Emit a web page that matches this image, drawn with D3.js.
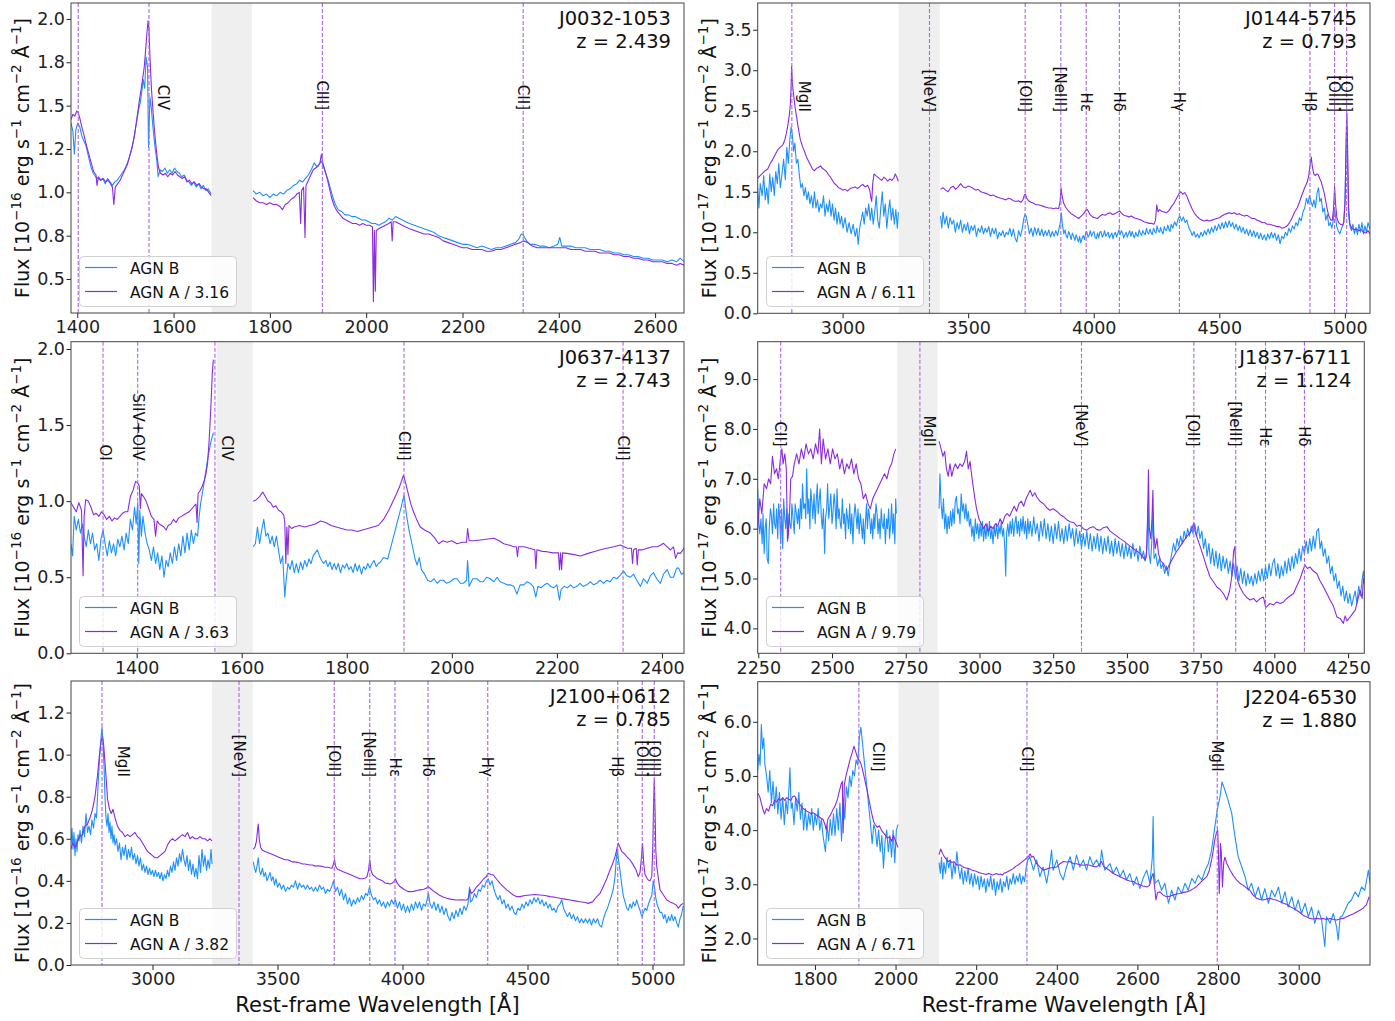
<!DOCTYPE html>
<html>
<head>
<meta charset="utf-8">
<script src="https://cdn.jsdelivr.net/npm/d3@7"></script>
<style>
body { margin: 0; background: #fff; }
text { font-family: "DejaVu Sans", sans-serif; }
</style>
</head>
<body>
<div id="chart"></div>
<script>
// Panel meta data
var panelNames = ["J0032-1053", "J0144-5745", "J0637-4137", "J1837-6711", "J2100+0612", "J2204-6530"];
var redshifts = ["2.439", "0.793", "2.743", "1.124", "0.785", "1.880"];
var scaleA = ["3.16", "6.11", "3.63", "9.79", "3.82", "6.71"];
var fluxExp = ["16", "17", "16", "17", "16", "17"];

var xDomains = [[1387, 2660], [2662, 5100], [1275, 2442], [2248, 4305], [2674, 5126], [1658, 3177]];
var yDomains = [[0.304, 2.092], [0, 3.83], [0, 2.048], [3.5, 9.75], [0, 1.35], [1.51, 6.74]];

var xTicks = [
  [1400, 1600, 1800, 2000, 2200, 2400, 2600],
  [3000, 3500, 4000, 4500, 5000],
  [1400, 1600, 1800, 2000, 2200, 2400],
  [2250, 2500, 2750, 3000, 3250, 3500, 3750, 4000, 4250],
  [3000, 3500, 4000, 4500, 5000],
  [1800, 2000, 2200, 2400, 2600, 2800, 3000]
];
var yTicks = [
  [0.5, 0.75, 1.0, 1.25, 1.5, 1.75, 2.0],
  [0, 0.5, 1.0, 1.5, 2.0, 2.5, 3.0, 3.5],
  [0, 0.5, 1.0, 1.5, 2.0],
  [4, 5, 6, 7, 8, 9],
  [0, 0.2, 0.4, 0.6, 0.8, 1.0, 1.2],
  [2, 3, 4, 5, 6]
];
var yTickLabels = [
  ["0.5", "0.8", "1.0", "1.2", "1.5", "1.8", "2.0"],
  ["0.0", "0.5", "1.0", "1.5", "2.0", "2.5", "3.0", "3.5"],
  ["0.0", "0.5", "1.0", "1.5", "2.0"],
  ["4.0", "5.0", "6.0", "7.0", "8.0", "9.0"],
  ["0.0", "0.2", "0.4", "0.6", "0.8", "1.0", "1.2"],
  ["2.0", "3.0", "4.0", "5.0", "6.0"]
];

// masked (telluric) wavelength ranges
var bands = [[1679, 1763], [3223, 3387], [1552, 1621], [2721, 2858], [3238, 3401], [2007, 2108]];

// emission line markers [rest wavelength, label]
var lines_j0032 = [[1402, ""], [1549, "CIV"], [1909, "CIII]"], [2326, "CII]"]];
var lines_j0144 = [[2798, "MgII"], [3346, "[NeV]"], [3727, "[OII]"], [3869, "[NeIII]"], [3970, "Hε"], [4102, "Hδ"], [4341, "Hγ"], [4861, "Hβ"], [4959, "[OIII]"], [5007, "[OIII]"]];
var lines_j0637 = [[1336, "OI"], [1402, "SiIV+OIV"], [1549, "CIV"], [1909, "CIII]"], [2326, "CII]"]];
var lines_j1837 = [[2326, "CII]"], [2798, "MgII"], [3346, "[NeV]"], [3727, "[OII]"], [3869, "[NeIII]"], [3970, "Hε"], [4102, "Hδ"]];
var lines_j2100 = [[2798, "MgII"], [3346, "[NeV]"], [3727, "[OII]"], [3869, "[NeIII]"], [3970, "Hε"], [4102, "Hδ"], [4341, "Hγ"], [4861, "Hβ"], [4959, "[OIII]"], [5007, "[OIII]"]];
var lines_j2204 = [[1909, "CIII]"], [2326, "CII]"], [2798, "MgII"]];

// spectra: [rest wavelength, flux]; null flux = gap
var j0032_B = [[1387,1.40],[1391,1.35],[1394,1.22],[1397,1.36],[1401,1.40],[1405,1.38],[1409,1.33],[1413,1.30],[1418,1.27],[1423,1.21],[1428,1.15],[1433,1.11],[1438,1.09],[1443,1.08],[1448,1.07],[1453,1.08],[1458,1.05],[1463,1.08],[1468,1.06],[1473,1.04],[1478,1.06],[1483,1.07],[1488,1.09],[1493,1.11],[1498,1.13],[1503,1.16],[1508,1.20],[1513,1.25],[1518,1.32],[1523,1.40],[1527,1.47],[1531,1.52],[1534,1.58],[1537,1.65],[1540,1.60],[1543,1.78],[1546,1.72],[1548,1.26],[1551,1.55],[1554,1.48],[1557,1.38],[1561,1.27],[1565,1.19],[1568,1.09],[1572,1.13],[1577,1.12],[1582,1.14],[1587,1.11],[1592,1.13],[1597,1.11],[1602,1.14],[1607,1.12],[1612,1.11],[1617,1.09],[1622,1.10],[1627,1.07],[1632,1.06],[1637,1.04],[1642,1.06],[1647,1.03],[1652,1.05],[1657,1.02],[1662,1.04],[1667,1.01],[1672,1.02],[1678,0.99],[1680,null],
[1765,1.01],[1772,0.99],[1779,1.00],[1786,0.98],[1793,0.99],[1800,0.97],[1807,0.99],[1814,0.98],[1821,1.00],[1828,0.99],[1835,1.01],[1842,1.02],[1849,1.04],[1856,1.05],[1862,1.07],[1868,1.06],[1874,1.08],[1880,1.10],[1886,1.13],[1892,1.17],[1897,1.15],[1902,1.16],[1907,1.18],[1911,1.15],[1916,1.11],[1921,1.07],[1926,1.02],[1931,0.97],[1936,0.93],[1942,0.90],[1949,0.89],[1956,0.87],[1963,0.87],[1970,0.86],[1977,0.86],[1984,0.85],[1991,0.84],[1998,0.84],[2005,0.83],[2012,0.82],[2019,0.82],[2026,0.81],[2033,0.82],[2040,0.83],[2047,0.85],[2054,0.84],[2061,0.86],[2068,0.85],[2075,0.84],[2082,0.83],[2090,0.82],[2100,0.81],[2110,0.80],[2120,0.79],[2130,0.78],[2140,0.77],[2150,0.75],[2160,0.74],[2170,0.73],[2180,0.72],[2190,0.71],[2200,0.70],[2210,0.70],[2220,0.69],[2230,0.68],[2240,0.69],[2250,0.68],[2260,0.67],[2270,0.68],[2280,0.68],[2290,0.69],[2300,0.70],[2310,0.71],[2317,0.73],[2322,0.76],[2327,0.75],[2333,0.72],[2340,0.70],[2350,0.70],[2360,0.69],[2370,0.69],[2380,0.68],[2390,0.69],[2398,0.70],[2402,0.74],[2406,0.69],[2415,0.69],[2425,0.69],[2435,0.68],[2445,0.68],[2455,0.68],[2465,0.67],[2475,0.67],[2485,0.67],[2495,0.66],[2505,0.66],[2515,0.65],[2525,0.65],[2535,0.64],[2545,0.64],[2555,0.63],[2565,0.63],[2575,0.62],[2585,0.62],[2595,0.61],[2605,0.61],[2615,0.61],[2625,0.60],[2635,0.61],[2645,0.60],[2652,0.62],[2660,0.60]];

var j0032_A = [[1387,1.42],[1391,1.45],[1395,1.44],[1399,1.47],[1402,1.46],[1406,1.42],[1410,1.37],[1414,1.33],[1419,1.27],[1424,1.22],[1429,1.17],[1434,1.12],[1439,1.10],[1441,1.04],[1444,1.09],[1449,1.07],[1454,1.08],[1459,1.06],[1464,1.07],[1469,1.05],[1473,1.03],[1476,0.93],[1479,1.03],[1484,1.05],[1489,1.07],[1494,1.10],[1499,1.13],[1504,1.16],[1509,1.21],[1514,1.26],[1519,1.33],[1524,1.43],[1529,1.53],[1533,1.60],[1536,1.66],[1539,1.72],[1542,1.82],[1545,1.93],[1547,1.99],[1549,1.94],[1551,1.78],[1554,1.60],[1557,1.48],[1560,1.37],[1563,1.28],[1566,1.20],[1569,1.14],[1573,1.11],[1578,1.10],[1583,1.11],[1588,1.09],[1593,1.11],[1598,1.10],[1603,1.12],[1608,1.10],[1613,1.09],[1618,1.08],[1623,1.09],[1628,1.06],[1633,1.07],[1638,1.05],[1643,1.06],[1648,1.04],[1653,1.05],[1658,1.03],[1663,1.02],[1668,1.02],[1673,1.00],[1678,0.98],[1680,null],
[1765,0.97],[1772,0.95],[1779,0.94],[1786,0.94],[1793,0.93],[1800,0.94],[1807,0.93],[1814,0.93],[1820,0.92],[1826,0.90],[1832,0.93],[1838,0.94],[1844,0.96],[1850,0.97],[1856,0.99],[1861,1.00],[1864,0.82],[1866,1.01],[1870,1.03],[1873,0.74],[1875,1.04],[1880,1.07],[1885,1.10],[1890,1.13],[1895,1.14],[1900,1.15],[1904,1.17],[1907,1.22],[1910,1.17],[1914,1.13],[1919,1.08],[1924,1.02],[1929,0.96],[1934,0.92],[1940,0.89],[1946,0.87],[1952,0.85],[1958,0.84],[1965,0.83],[1972,0.82],[1979,0.82],[1986,0.81],[1993,0.82],[2000,0.81],[2007,0.81],[2013,0.80],[2015,0.37],[2017,0.78],[2019,0.43],[2021,0.78],[2026,0.79],[2033,0.80],[2040,0.81],[2047,0.82],[2052,0.83],[2054,0.72],[2056,0.83],[2061,0.83],[2068,0.82],[2075,0.81],[2082,0.80],[2090,0.79],[2100,0.78],[2110,0.77],[2120,0.76],[2130,0.76],[2140,0.75],[2150,0.74],[2160,0.72],[2170,0.71],[2180,0.70],[2190,0.69],[2200,0.68],[2210,0.68],[2220,0.67],[2230,0.67],[2240,0.67],[2250,0.66],[2260,0.66],[2270,0.67],[2280,0.67],[2290,0.68],[2300,0.69],[2310,0.70],[2320,0.71],[2327,0.72],[2335,0.71],[2345,0.69],[2355,0.68],[2365,0.68],[2375,0.68],[2385,0.68],[2395,0.68],[2405,0.68],[2415,0.68],[2425,0.67],[2435,0.67],[2445,0.67],[2455,0.66],[2465,0.66],[2475,0.66],[2485,0.65],[2495,0.65],[2505,0.65],[2515,0.64],[2525,0.64],[2535,0.63],[2545,0.63],[2555,0.62],[2565,0.62],[2575,0.61],[2585,0.61],[2595,0.60],[2605,0.60],[2615,0.60],[2625,0.59],[2635,0.59],[2645,0.58],[2652,0.59],[2660,0.58]];

var j0144_B = [[2662,1.55],[2667,1.30],[2672,1.60],[2680,1.45],[2686,1.70],[2692,1.40],[2698,1.55],[2704,1.35],[2710,1.72],[2716,1.50],[2722,1.68],[2728,1.45],[2734,1.75],[2740,1.60],[2746,1.85],[2752,1.55],[2758,1.70],[2765,1.90],[2772,1.65],[2778,2.05],[2784,1.85],[2790,2.15],[2795,2.30],[2800,2.20],[2805,2.00],[2810,2.10],[2816,1.85],[2822,1.90],[2828,1.70],[2834,1.55],[2840,1.60],[2846,1.45],[2852,1.55],[2858,1.40],[2864,1.50],[2870,1.35],[2876,1.45],[2882,1.30],[2888,1.50],[2894,1.30],[2900,1.40],[2906,1.25],[2912,1.35],[2918,1.30],[2924,1.45],[2930,1.20],[2936,1.35],[2942,1.25],[2948,1.40],[2954,1.20],[2960,1.35],[2966,1.15],[2972,1.30],[2978,1.10],[2984,1.25],[2990,1.10],[2996,1.20],[3002,1.05],[3010,1.18],[3018,1.00],[3026,1.12],[3034,0.98],[3042,1.10],[3050,0.95],[3057,1.05],[3062,0.85],[3068,1.05],[3074,1.15],[3080,1.25],[3086,1.10],[3092,1.30],[3098,1.20],[3104,1.35],[3110,1.15],[3116,1.30],[3122,1.10],[3128,1.25],[3134,1.45],[3140,1.15],[3146,1.05],[3152,1.30],[3158,1.50],[3164,1.20],[3170,1.35],[3176,1.05],[3182,1.25],[3188,1.40],[3194,1.15],[3200,1.30],[3206,1.10],[3212,1.28],[3218,1.05],[3222,1.25],[3224,null],
[3390,1.20],[3395,1.05],[3400,1.25],[3407,1.10],[3414,1.20],[3421,1.05],[3428,1.18],[3435,1.10],[3442,1.15],[3449,1.00],[3456,1.12],[3463,1.04],[3470,1.15],[3477,1.00],[3484,1.10],[3491,1.02],[3498,1.12],[3505,0.98],[3512,1.08],[3519,1.02],[3526,1.09],[3533,0.95],[3540,1.05],[3547,1.00],[3554,1.08],[3561,0.98],[3568,1.05],[3575,1.00],[3582,1.07],[3589,0.95],[3596,1.05],[3603,0.98],[3610,1.05],[3617,0.92],[3624,1.00],[3631,0.96],[3638,1.02],[3645,0.94],[3652,1.00],[3659,0.97],[3666,1.05],[3673,0.95],[3680,1.04],[3687,0.93],[3694,0.88],[3701,1.02],[3708,0.95],[3715,1.04],[3721,1.16],[3726,1.22],[3731,1.20],[3737,1.10],[3744,0.98],[3751,1.05],[3758,0.95],[3765,1.06],[3772,0.97],[3779,1.05],[3786,0.96],[3793,1.04],[3800,0.95],[3807,1.02],[3814,0.96],[3821,1.03],[3828,0.94],[3835,1.01],[3842,0.95],[3849,1.02],[3856,0.96],[3862,1.05],[3867,1.12],[3871,1.24],[3875,1.10],[3881,0.98],[3886,1.03],[3890,0.96],[3895,0.93],[3900,1.01],[3905,0.97],[3910,0.91],[3915,0.99],[3920,0.95],[3925,0.90],[3930,0.97],[3934,0.93],[3939,0.88],[3944,0.95],[3948,0.87],[3953,0.92],[3958,0.96],[3963,0.91],[3968,0.99],[3972,1.01],[3977,0.94],[3982,0.97],[3986,1.02],[3991,0.95],[3996,0.99],[4001,1.01],[4005,0.94],[4010,0.92],[4015,0.99],[4020,0.93],[4024,1.00],[4029,1.01],[4034,0.94],[4039,0.97],[4043,1.02],[4048,0.95],[4053,0.98],[4058,1.00],[4062,0.93],[4067,0.96],[4072,0.99],[4077,0.92],[4081,0.97],[4086,1.00],[4091,0.94],[4096,0.99],[4100,1.03],[4105,0.97],[4110,1.02],[4115,0.99],[4119,0.93],[4124,0.97],[4129,1.00],[4134,0.94],[4138,0.98],[4143,1.02],[4148,0.95],[4153,1.01],[4157,0.97],[4162,0.93],[4167,1.00],[4172,0.96],[4176,0.95],[4181,1.03],[4186,0.98],[4191,0.96],[4195,1.02],[4200,0.99],[4205,0.97],[4210,1.05],[4214,1.00],[4219,0.98],[4224,1.04],[4229,0.99],[4233,0.97],[4238,1.05],[4243,1.01],[4248,0.99],[4252,1.08],[4257,1.02],[4262,1.00],[4266,1.06],[4271,1.01],[4276,0.98],[4281,1.07],[4285,1.03],[4290,1.02],[4295,1.09],[4300,1.03],[4304,1.01],[4308,1.10],[4315,1.05],[4322,1.13],[4329,1.08],[4336,1.17],[4343,1.20],[4350,1.14],[4357,1.19],[4364,1.12],[4371,1.15],[4378,1.06],[4385,1.02],[4392,0.96],[4399,1.01],[4406,0.94],[4413,0.98],[4420,0.93],[4427,1.00],[4434,0.95],[4441,1.02],[4448,0.97],[4455,1.04],[4462,0.98],[4469,1.06],[4476,1.00],[4483,1.08],[4490,1.02],[4497,1.10],[4504,1.04],[4511,1.12],[4518,1.05],[4525,1.13],[4532,1.06],[4539,1.14],[4546,1.07],[4553,1.12],[4560,1.04],[4567,1.10],[4574,1.02],[4581,1.08],[4588,1.00],[4595,1.06],[4602,0.98],[4609,1.04],[4616,0.96],[4623,1.03],[4630,0.95],[4637,1.02],[4644,0.94],[4651,1.00],[4658,0.92],[4665,0.99],[4672,0.91],[4679,0.97],[4686,0.90],[4693,0.98],[4700,0.92],[4707,1.00],[4714,0.93],[4721,0.99],[4728,0.90],[4735,0.97],[4742,0.86],[4749,0.95],[4756,0.92],[4763,1.00],[4770,0.96],[4777,1.05],[4784,1.00],[4791,1.08],[4798,1.04],[4805,1.12],[4812,1.08],[4819,1.18],[4826,1.14],[4833,1.25],[4840,1.30],[4847,1.42],[4853,1.35],[4859,1.45],[4865,1.38],[4871,1.32],[4877,1.40],[4883,1.30],[4889,1.48],[4895,1.55],[4900,1.38],[4906,1.42],[4912,1.25],[4918,1.30],[4924,1.15],[4930,1.22],[4936,1.08],[4942,1.12],[4948,1.05],[4954,1.15],[4958,1.30],[4962,1.22],[4967,1.08],[4973,1.02],[4980,0.98],[4987,1.05],[4994,1.10],[5000,1.35],[5004,1.90],[5008,2.30],[5011,1.80],[5015,1.20],[5020,1.08],[5026,1.02],[5032,1.10],[5038,0.98],[5044,1.06],[5050,0.97],[5056,1.10],[5062,1.00],[5068,1.12],[5074,0.98],[5080,1.08],[5086,1.00],[5092,1.12],[5100,1.04]];

var j0144_A = [[2662,1.67],[2672,1.70],[2682,1.73],[2692,1.76],[2702,1.78],[2712,1.85],[2722,1.90],[2732,1.96],[2742,2.02],[2752,2.05],[2762,2.08],[2770,2.14],[2776,2.22],[2782,2.32],[2788,2.45],[2792,2.58],[2795,2.80],[2797,3.05],[2800,2.85],[2803,2.75],[2807,2.64],[2812,2.52],[2818,2.40],[2825,2.26],[2832,2.14],[2840,2.06],[2848,2.00],[2856,1.93],[2864,1.88],[2872,1.83],[2880,1.78],[2888,1.76],[2896,1.79],[2904,1.80],[2912,1.82],[2920,1.79],[2928,1.77],[2936,1.75],[2944,1.71],[2952,1.68],[2960,1.64],[2968,1.60],[2976,1.58],[2984,1.55],[2992,1.54],[3000,1.52],[3010,1.53],[3020,1.51],[3030,1.54],[3040,1.55],[3050,1.56],[3060,1.54],[3070,1.57],[3080,1.59],[3090,1.56],[3100,1.58],[3108,1.52],[3113,1.42],[3116,1.38],[3120,1.60],[3125,1.72],[3132,1.70],[3140,1.68],[3148,1.66],[3156,1.64],[3164,1.68],[3172,1.66],[3180,1.63],[3188,1.66],[3196,1.64],[3204,1.67],[3210,1.72],[3216,1.68],[3222,1.63],[3224,null],
[3390,1.53],[3400,1.55],[3410,1.52],[3420,1.50],[3430,1.55],[3440,1.57],[3450,1.53],[3460,1.56],[3470,1.60],[3480,1.56],[3490,1.55],[3500,1.57],[3510,1.56],[3520,1.54],[3530,1.52],[3540,1.53],[3550,1.50],[3560,1.49],[3570,1.48],[3580,1.47],[3590,1.45],[3600,1.46],[3610,1.44],[3620,1.43],[3630,1.42],[3640,1.41],[3650,1.40],[3660,1.42],[3670,1.41],[3680,1.39],[3690,1.38],[3700,1.39],[3710,1.37],[3718,1.40],[3724,1.46],[3728,1.47],[3733,1.42],[3740,1.39],[3750,1.37],[3760,1.36],[3770,1.34],[3780,1.34],[3790,1.33],[3800,1.32],[3810,1.31],[3820,1.30],[3830,1.30],[3840,1.29],[3850,1.30],[3860,1.29],[3866,1.38],[3870,1.55],[3874,1.45],[3880,1.36],[3890,1.30],[3900,1.26],[3910,1.23],[3920,1.21],[3930,1.19],[3940,1.17],[3950,1.20],[3960,1.23],[3968,1.27],[3975,1.28],[3985,1.22],[3995,1.19],[4005,1.18],[4015,1.17],[4025,1.20],[4035,1.22],[4045,1.21],[4055,1.23],[4065,1.24],[4075,1.22],[4085,1.23],[4095,1.25],[4104,1.26],[4112,1.23],[4120,1.21],[4130,1.20],[4140,1.19],[4150,1.20],[4160,1.18],[4170,1.17],[4180,1.16],[4190,1.15],[4200,1.13],[4210,1.12],[4220,1.11],[4230,1.11],[4240,1.10],[4246,1.15],[4251,1.34],[4256,1.25],[4262,1.28],[4270,1.26],[4280,1.25],[4290,1.24],[4300,1.27],[4310,1.32],[4320,1.36],[4330,1.42],[4340,1.48],[4347,1.50],[4354,1.47],[4362,1.49],[4370,1.45],[4380,1.37],[4390,1.30],[4400,1.24],[4410,1.20],[4420,1.17],[4430,1.15],[4440,1.14],[4450,1.15],[4460,1.14],[4470,1.15],[4480,1.16],[4490,1.17],[4500,1.18],[4510,1.20],[4520,1.22],[4530,1.23],[4540,1.24],[4550,1.23],[4560,1.24],[4570,1.22],[4580,1.23],[4590,1.21],[4600,1.20],[4610,1.21],[4620,1.19],[4630,1.17],[4640,1.17],[4650,1.15],[4660,1.14],[4670,1.12],[4680,1.12],[4690,1.10],[4700,1.10],[4710,1.09],[4720,1.08],[4730,1.07],[4740,1.07],[4750,1.05],[4760,1.06],[4770,1.08],[4780,1.12],[4790,1.18],[4800,1.25],[4810,1.30],[4820,1.38],[4830,1.47],[4840,1.55],[4850,1.62],[4856,1.70],[4862,1.85],[4866,1.93],[4870,1.82],[4876,1.72],[4882,1.70],[4888,1.72],[4894,1.71],[4900,1.66],[4906,1.62],[4912,1.55],[4918,1.48],[4924,1.38],[4930,1.28],[4936,1.20],[4944,1.15],[4950,1.15],[4955,1.30],[4959,1.56],[4963,1.35],[4968,1.18],[4975,1.12],[4982,1.10],[4990,1.09],[4996,1.12],[5001,1.40],[5005,2.20],[5008,2.47],[5011,2.00],[5015,1.30],[5020,1.10],[5028,1.05],[5036,1.03],[5045,1.04],[5055,1.02],[5065,1.03],[5075,1.00],[5085,0.99],[5092,1.02],[5100,0.98]];

var j0637_B = [[1275,0.72],[1278,0.64],[1281,0.90],[1285,0.81],[1289,0.88],[1293,0.79],[1297,0.85],[1300,0.77],[1304,0.70],[1308,0.81],[1312,0.72],[1316,0.79],[1320,0.68],[1324,0.72],[1328,0.61],[1332,0.75],[1336,0.81],[1340,0.72],[1344,0.64],[1348,0.74],[1352,0.66],[1356,0.72],[1360,0.64],[1364,0.75],[1368,0.70],[1372,0.77],[1376,0.68],[1380,0.79],[1384,0.72],[1388,0.88],[1392,0.81],[1396,0.96],[1399,0.85],[1402,0.99],[1404,0.59],[1406,0.94],[1409,0.77],[1412,0.90],[1416,0.79],[1420,0.72],[1424,0.68],[1428,0.61],[1432,0.70],[1436,0.59],[1440,0.66],[1444,0.55],[1448,0.64],[1452,0.50],[1456,0.61],[1460,0.57],[1464,0.66],[1468,0.59],[1472,0.70],[1476,0.61],[1480,0.72],[1484,0.64],[1488,0.77],[1492,0.66],[1496,0.79],[1500,0.68],[1504,0.81],[1508,0.72],[1512,0.79],[1516,0.77],[1519,0.90],[1522,0.99],[1526,1.07],[1530,1.16],[1534,1.25],[1538,1.33],[1542,1.40],[1546,1.45],[1548,null],
[1622,0.70],[1626,0.72],[1630,0.83],[1634,0.72],[1638,0.81],[1642,0.88],[1646,0.77],[1650,0.79],[1654,0.72],[1658,0.77],[1662,0.70],[1666,0.77],[1670,0.68],[1674,0.59],[1678,0.64],[1682,0.37],[1684,0.46],[1688,0.59],[1692,0.55],[1696,0.61],[1700,0.53],[1704,0.59],[1708,0.53],[1712,0.60],[1716,0.55],[1720,0.61],[1724,0.57],[1728,0.62],[1732,0.59],[1736,0.64],[1740,0.66],[1744,0.68],[1748,0.64],[1752,0.61],[1756,0.59],[1760,0.61],[1764,0.57],[1768,0.60],[1772,0.55],[1776,0.59],[1780,0.55],[1784,0.59],[1788,0.53],[1792,0.58],[1796,0.56],[1800,0.59],[1804,0.55],[1808,0.57],[1812,0.53],[1816,0.59],[1820,0.54],[1824,0.58],[1828,0.52],[1832,0.57],[1836,0.55],[1840,0.59],[1844,0.56],[1848,0.59],[1852,0.61],[1856,0.57],[1860,0.59],[1864,0.60],[1870,0.63],[1878,0.62],[1884,0.70],[1890,0.78],[1896,0.86],[1902,0.94],[1909,1.04],[1914,0.90],[1919,0.80],[1924,0.72],[1930,0.62],[1934,0.58],[1938,0.63],[1942,0.55],[1948,0.52],[1954,0.48],[1960,0.47],[1966,0.49],[1972,0.46],[1978,0.48],[1984,0.48],[1990,0.46],[1997,0.47],[2004,0.49],[2010,0.49],[2016,0.46],[2022,0.46],[2028,0.48],[2030,0.61],[2033,0.44],[2040,0.49],[2048,0.49],[2054,0.47],[2060,0.47],[2066,0.50],[2073,0.49],[2080,0.47],[2086,0.50],[2092,0.47],[2099,0.46],[2105,0.45],[2111,0.45],[2118,0.44],[2124,0.39],[2130,0.45],[2137,0.45],[2143,0.47],[2149,0.46],[2155,0.44],[2160,0.37],[2164,0.44],[2170,0.43],[2176,0.45],[2182,0.46],[2188,0.44],[2194,0.43],[2200,0.45],[2205,0.35],[2208,0.42],[2214,0.44],[2220,0.43],[2226,0.45],[2232,0.43],[2238,0.44],[2244,0.46],[2250,0.44],[2257,0.45],[2264,0.47],[2270,0.45],[2276,0.46],[2282,0.48],[2289,0.46],[2295,0.48],[2301,0.47],[2308,0.50],[2314,0.49],[2320,0.51],[2327,0.54],[2333,0.51],[2340,0.50],[2346,0.52],[2352,0.48],[2359,0.44],[2365,0.49],[2372,0.46],[2378,0.51],[2384,0.53],[2390,0.49],[2397,0.46],[2403,0.52],[2410,0.55],[2416,0.50],[2422,0.50],[2428,0.56],[2432,0.56],[2437,0.52],[2443,0.53]];

var j0637_A = [[1275,0.99],[1280,0.96],[1285,0.93],[1290,0.99],[1295,0.94],[1298,0.51],[1300,0.90],[1303,1.01],[1308,1.00],[1313,0.96],[1318,0.91],[1323,0.92],[1328,0.90],[1333,0.93],[1338,0.91],[1343,0.88],[1348,0.90],[1353,0.87],[1358,0.89],[1363,0.88],[1368,0.90],[1373,0.92],[1378,0.93],[1383,0.93],[1388,1.03],[1393,1.07],[1398,1.13],[1402,1.12],[1405,1.10],[1407,0.95],[1409,1.05],[1413,1.03],[1418,1.00],[1423,0.95],[1428,0.90],[1433,0.88],[1436,0.77],[1439,0.87],[1443,0.85],[1448,0.84],[1452,0.83],[1456,0.81],[1460,0.84],[1465,0.85],[1470,0.88],[1475,0.86],[1480,0.89],[1485,0.90],[1490,0.91],[1495,0.92],[1500,0.93],[1505,0.95],[1510,0.97],[1513,0.98],[1515,0.86],[1517,1.05],[1521,1.07],[1525,1.10],[1529,1.14],[1532,1.18],[1535,1.25],[1538,1.40],[1541,1.60],[1544,1.84],[1546,1.93],[1548,null],
[1622,1.00],[1628,1.01],[1634,1.03],[1640,1.06],[1645,1.03],[1650,1.00],[1655,0.99],[1660,0.96],[1665,0.97],[1670,0.94],[1675,0.93],[1680,0.91],[1682,0.86],[1684,0.59],[1686,0.83],[1688,0.65],[1690,0.84],[1695,0.82],[1700,0.83],[1710,0.84],[1720,0.83],[1730,0.84],[1740,0.85],[1750,0.87],[1760,0.86],[1770,0.84],[1780,0.83],[1790,0.82],[1800,0.81],[1810,0.81],[1820,0.80],[1830,0.81],[1840,0.82],[1850,0.83],[1860,0.84],[1870,0.88],[1880,0.94],[1888,1.00],[1895,1.05],[1901,1.10],[1908,1.17],[1912,1.12],[1917,1.05],[1922,0.98],[1927,0.93],[1933,0.88],[1940,0.83],[1948,0.81],[1959,0.79],[1967,0.76],[1975,0.72],[1983,0.74],[1991,0.73],[2000,0.74],[2010,0.72],[2020,0.73],[2028,0.73],[2030,0.82],[2033,0.74],[2042,0.74],[2054,0.745],[2066,0.75],[2080,0.756],[2090,0.74],[2099,0.72],[2110,0.71],[2118,0.70],[2123,0.70],[2125,0.635],[2127,0.70],[2137,0.70],[2148,0.69],[2158,0.68],[2160,0.558],[2162,0.68],[2172,0.67],[2181,0.668],[2192,0.66],[2203,0.66],[2205,0.548],[2207,0.66],[2209,0.55],[2211,0.66],[2219,0.657],[2230,0.65],[2245,0.64],[2258,0.655],[2270,0.668],[2283,0.68],[2295,0.69],[2308,0.70],[2321,0.712],[2334,0.69],[2342,0.69],[2344,0.59],[2346,0.68],[2351,0.69],[2353,0.58],[2355,0.68],[2363,0.68],[2372,0.69],[2382,0.70],[2391,0.70],[2397,0.71],[2403,0.723],[2410,0.70],[2416,0.68],[2422,0.70],[2426,0.624],[2430,0.66],[2435,0.657],[2440,0.68],[2443,0.70]];

var j1837_B = [[2248,6.8],[2252,6.1],[2255,5.9],[2259,6.2],[2263,5.7],[2266,6.3],[2270,5.5],[2273,6.0],[2277,6.2],[2280,5.4],[2284,5.3],[2287,6.0],[2291,6.4],[2294,6.3],[2298,5.9],[2302,6.5],[2305,6.1],[2309,6.0],[2312,6.4],[2316,5.8],[2319,6.5],[2322,6.3],[2326,5.7],[2329,6.4],[2333,5.6],[2336,6.6],[2340,6.2],[2343,6.0],[2347,6.4],[2350,5.8],[2354,6.3],[2357,6.1],[2361,6.0],[2364,6.5],[2368,6.2],[2372,5.9],[2375,6.5],[2379,6.3],[2383,6.1],[2386,6.4],[2390,6.0],[2393,6.6],[2397,6.2],[2400,6.9],[2404,6.4],[2408,6.5],[2411,6.2],[2414,7.2],[2418,6.3],[2421,6.6],[2425,6.0],[2428,6.8],[2432,6.5],[2435,6.2],[2439,6.7],[2443,6.1],[2446,6.5],[2450,6.9],[2453,6.3],[2457,6.6],[2460,6.8],[2464,6.2],[2467,6.0],[2471,6.4],[2475,5.5],[2478,6.2],[2482,6.4],[2485,6.9],[2489,6.2],[2492,6.4],[2496,6.7],[2500,6.1],[2503,6.3],[2507,6.7],[2510,6.5],[2514,6.0],[2517,6.8],[2521,6.2],[2524,6.4],[2528,6.1],[2531,6.0],[2535,6.6],[2539,6.1],[2542,6.3],[2546,5.8],[2549,6.4],[2553,6.2],[2556,6.0],[2560,6.5],[2563,5.9],[2567,6.3],[2571,5.7],[2574,6.2],[2578,6.5],[2581,6.3],[2585,6.0],[2588,6.4],[2592,5.9],[2596,6.3],[2599,6.1],[2603,5.8],[2606,6.2],[2610,5.7],[2613,6.1],[2617,6.5],[2620,6.0],[2624,6.4],[2628,6.2],[2631,5.9],[2635,6.2],[2638,5.8],[2642,6.3],[2645,6.0],[2649,6.5],[2653,6.3],[2656,5.9],[2660,6.2],[2663,5.8],[2667,6.4],[2670,6.1],[2674,6.0],[2677,6.3],[2681,5.7],[2685,6.2],[2688,6.0],[2692,6.4],[2695,5.8],[2699,6.1],[2702,6.5],[2706,5.9],[2709,6.3],[2713,5.7],[2716,6.6],[2718,6.3],[2720,null],
[2863,6.4],[2866,7.1],[2870,6.5],[2874,6.2],[2878,6.6],[2882,6.0],[2886,6.3],[2890,5.9],[2894,6.25],[2898,6.0],[2902,6.35],[2906,6.05],[2910,6.4],[2914,6.1],[2918,6.55],[2922,6.65],[2926,6.3],[2930,6.4],[2934,6.1],[2938,6.7],[2942,6.35],[2946,6.5],[2950,6.2],[2954,6.5],[2958,6.15],[2962,6.35],[2966,6.05],[2970,6.2],[2974,5.85],[2978,6.05],[2982,5.75],[2986,6.2],[2990,5.9],[2994,6.1],[2998,5.8],[3002,6.1],[3006,5.85],[3010,6.15],[3014,5.75],[3018,6.05],[3022,5.8],[3026,6.1],[3030,5.85],[3034,6.15],[3038,5.8],[3042,6.0],[3046,5.7],[3050,6.05],[3054,5.85],[3058,6.1],[3062,5.8],[3066,6.05],[3070,5.9],[3074,6.15],[3078,5.85],[3082,6.0],[3086,5.6],[3089,5.05],[3092,5.9],[3096,6.1],[3100,5.85],[3104,6.15],[3108,5.9],[3112,6.2],[3116,5.85],[3120,6.1],[3124,6.25],[3128,5.9],[3132,6.15],[3136,5.85],[3140,6.2],[3144,5.95],[3148,6.25],[3152,5.9],[3156,6.15],[3160,5.8],[3164,6.2],[3168,5.9],[3172,6.15],[3178,5.85],[3184,6.24],[3190,5.9],[3196,6.1],[3202,5.75],[3208,6.15],[3214,5.85],[3220,6.2],[3226,5.8],[3232,6.1],[3238,5.75],[3244,6.05],[3250,5.7],[3256,6.1],[3262,5.8],[3268,6.15],[3274,5.75],[3280,6.0],[3286,5.7],[3292,6.05],[3298,5.75],[3304,6.1],[3310,5.8],[3316,6.0],[3322,5.65],[3328,6.0],[3334,5.7],[3340,5.95],[3346,5.6],[3352,5.9],[3358,5.65],[3364,5.95],[3370,5.6],[3376,5.9],[3382,5.55],[3388,5.85],[3394,5.6],[3400,5.9],[3406,5.55],[3412,5.85],[3418,5.5],[3424,5.8],[3430,5.55],[3436,5.85],[3442,5.5],[3448,5.75],[3454,5.45],[3460,5.8],[3466,5.5],[3472,5.75],[3478,5.45],[3484,5.7],[3490,5.4],[3496,5.7],[3502,5.45],[3508,5.65],[3514,5.4],[3520,5.7],[3526,5.45],[3532,5.6],[3538,5.35],[3544,5.65],[3550,5.4],[3556,5.55],[3562,5.35],[3568,5.6],[3572,6.5],[3575,5.5],[3580,5.3],[3584,5.7],[3588,6.3],[3592,5.4],[3598,5.5],[3604,5.25],[3610,5.4],[3616,5.2],[3622,5.3],[3628,5.1],[3634,5.25],[3640,5.05],[3646,5.3],[3652,5.5],[3658,5.7],[3664,5.55],[3670,5.8],[3676,5.65],[3682,5.85],[3688,5.7],[3694,5.95],[3700,5.8],[3706,6.0],[3712,5.85],[3718,6.05],[3724,5.9],[3730,6.1],[3736,5.85],[3742,6.05],[3748,5.8],[3754,5.95],[3760,5.6],[3766,5.8],[3772,5.45],[3778,5.7],[3784,5.3],[3790,5.6],[3796,5.25],[3802,5.55],[3808,5.2],[3814,5.5],[3820,5.15],[3826,5.45],[3832,5.2],[3838,5.4],[3844,5.1],[3850,5.35],[3856,5.05],[3862,5.3],[3868,5.0],[3874,5.25],[3880,4.95],[3886,5.2],[3892,4.9],[3898,5.15],[3904,4.85],[3910,5.1],[3916,4.9],[3922,5.05],[3928,4.85],[3934,5.1],[3940,4.9],[3946,5.15],[3952,4.95],[3958,5.2],[3964,4.95],[3970,5.25],[3976,5.0],[3982,5.3],[3988,5.05],[3994,5.3],[4000,5.4],[4006,5.05],[4012,5.3],[4018,5.0],[4024,5.25],[4030,5.05],[4036,5.35],[4042,5.1],[4048,5.4],[4054,5.15],[4060,5.45],[4066,5.2],[4072,5.5],[4078,5.3],[4084,5.6],[4090,5.35],[4096,5.65],[4102,5.5],[4108,5.75],[4114,5.5],[4120,5.8],[4126,5.55],[4132,5.85],[4138,5.6],[4144,5.95],[4150,6.0],[4155,5.6],[4160,5.75],[4166,5.45],[4172,5.6],[4178,5.3],[4184,5.45],[4190,5.1],[4196,5.25],[4202,4.95],[4208,5.1],[4214,4.8],[4220,4.95],[4226,4.65],[4232,4.85],[4238,4.55],[4244,4.75],[4250,4.5],[4256,4.7],[4262,4.45],[4268,4.6],[4274,4.75],[4280,4.5],[4286,4.85],[4292,4.65],[4298,5.0],[4302,5.15],[4305,4.95]];

var j1837_A = [[2248,6.0],[2255,6.6],[2262,6.3],[2270,6.9],[2278,6.8],[2285,7.0],[2292,6.9],[2298,7.45],[2305,7.1],[2312,7.2],[2318,7.0],[2325,7.4],[2330,7.6],[2334,7.3],[2340,7.5],[2345,7.2],[2349,5.75],[2352,5.9],[2356,6.3],[2360,7.0],[2366,7.05],[2372,7.3],[2380,7.5],[2388,7.3],[2396,7.6],[2404,7.4],[2412,7.7],[2420,7.5],[2428,7.6],[2436,7.4],[2444,7.7],[2452,7.5],[2458,8.0],[2464,7.3],[2470,7.8],[2478,7.4],[2486,7.6],[2494,7.3],[2502,7.6],[2510,7.4],[2518,7.5],[2526,7.2],[2534,7.4],[2542,7.1],[2550,7.3],[2558,7.2],[2566,7.4],[2574,7.1],[2582,7.3],[2590,7.0],[2598,6.9],[2606,6.6],[2614,6.7],[2622,6.5],[2630,6.4],[2638,6.6],[2646,6.7],[2654,6.8],[2662,6.9],[2670,7.0],[2678,7.1],[2686,7.0],[2694,7.2],[2702,7.3],[2710,7.5],[2716,7.6],[2720,null],
[2863,7.75],[2870,7.6],[2876,7.45],[2882,7.55],[2888,7.2],[2894,7.05],[2900,7.3],[2906,7.05],[2912,7.2],[2918,7.3],[2926,7.2],[2934,7.3],[2942,7.25],[2950,7.35],[2956,7.55],[2962,7.2],[2968,7.35],[2975,7.0],[2982,6.7],[2990,6.4],[2998,6.2],[3006,6.1],[3014,6.0],[3022,6.1],[3030,5.95],[3038,6.05],[3046,6.0],[3054,6.1],[3062,6.05],[3070,6.2],[3078,6.1],[3086,6.25],[3094,6.3],[3102,6.25],[3110,6.35],[3118,6.45],[3126,6.35],[3134,6.5],[3142,6.55],[3150,6.45],[3158,6.6],[3166,6.7],[3172,6.77],[3180,6.65],[3188,6.72],[3194,6.64],[3205,6.55],[3217,6.5],[3228,6.42],[3239,6.37],[3250,6.40],[3262,6.35],[3274,6.28],[3285,6.24],[3296,6.18],[3307,6.14],[3320,6.12],[3330,6.05],[3341,6.07],[3352,6.0],[3364,5.97],[3375,6.02],[3386,6.04],[3398,5.98],[3409,5.97],[3420,6.02],[3432,6.04],[3443,5.95],[3454,5.90],[3466,5.85],[3477,5.80],[3488,5.76],[3500,5.70],[3511,5.65],[3522,5.60],[3534,5.55],[3545,5.50],[3556,5.42],[3562,5.37],[3566,5.45],[3570,6.2],[3573,7.18],[3576,6.0],[3581,5.8],[3585,6.2],[3588,6.77],[3591,5.9],[3596,5.6],[3602,5.8],[3607,5.5],[3615,5.35],[3624,5.30],[3635,5.17],[3646,5.30],[3658,5.43],[3669,5.55],[3680,5.64],[3692,5.75],[3703,5.84],[3712,5.90],[3720,5.97],[3726,6.11],[3731,5.95],[3737,5.84],[3748,5.65],[3760,5.43],[3771,5.22],[3782,5.03],[3794,4.93],[3805,4.83],[3816,4.78],[3827,4.70],[3839,4.57],[3848,4.75],[3856,5.05],[3862,5.55],[3866,5.64],[3870,5.20],[3876,4.95],[3884,4.82],[3895,4.70],[3906,4.62],[3918,4.57],[3929,4.60],[3940,4.53],[3952,4.60],[3963,4.63],[3970,4.43],[3974,4.43],[3985,4.50],[3997,4.47],[4008,4.53],[4020,4.50],[4031,4.53],[4042,4.60],[4053,4.65],[4065,4.70],[4076,4.85],[4087,4.99],[4096,5.15],[4104,5.27],[4112,5.20],[4121,5.23],[4132,5.15],[4144,5.10],[4155,4.95],[4167,4.83],[4178,4.70],[4189,4.57],[4200,4.45],[4212,4.23],[4223,4.20],[4234,4.10],[4240,4.25],[4246,4.15],[4257,4.23],[4266,4.30],[4274,4.36],[4282,4.55],[4291,4.76],[4298,4.6],[4302,5.0],[4305,4.9]];

var j2100_B = [[2674,0.58],[2678,0.65],[2682,0.55],[2686,0.63],[2690,0.52],[2694,0.60],[2698,0.54],[2702,0.62],[2706,0.59],[2710,0.64],[2716,0.58],[2722,0.66],[2728,0.61],[2734,0.72],[2740,0.63],[2746,0.66],[2752,0.62],[2758,0.69],[2764,0.65],[2770,0.72],[2776,0.70],[2782,0.85],[2788,0.98],[2794,1.08],[2798,1.13],[2802,1.05],[2806,0.95],[2810,0.80],[2814,0.70],[2818,0.66],[2822,0.72],[2826,0.63],[2830,0.68],[2834,0.60],[2838,0.66],[2842,0.58],[2846,0.62],[2850,0.57],[2856,0.60],[2862,0.54],[2868,0.58],[2874,0.50],[2880,0.56],[2886,0.52],[2892,0.57],[2898,0.50],[2904,0.55],[2910,0.51],[2916,0.56],[2922,0.50],[2928,0.53],[2934,0.48],[2940,0.52],[2946,0.47],[2952,0.51],[2958,0.45],[2964,0.48],[2970,0.44],[2976,0.47],[2982,0.43],[2988,0.46],[2994,0.43],[3000,0.45],[3006,0.42],[3012,0.45],[3018,0.42],[3024,0.44],[3030,0.41],[3036,0.44],[3042,0.40],[3048,0.43],[3054,0.41],[3060,0.45],[3066,0.42],[3072,0.47],[3078,0.44],[3084,0.49],[3090,0.45],[3096,0.51],[3102,0.47],[3108,0.53],[3114,0.49],[3120,0.55],[3126,0.50],[3132,0.47],[3138,0.52],[3144,0.45],[3150,0.50],[3156,0.43],[3162,0.48],[3168,0.42],[3174,0.46],[3180,0.41],[3186,0.52],[3192,0.44],[3198,0.55],[3204,0.47],[3210,0.52],[3216,0.45],[3222,0.50],[3228,0.46],[3234,0.55],[3238,0.48],[3240,null],
[3403,0.49],[3408,0.46],[3413,0.44],[3418,0.47],[3423,0.51],[3428,0.45],[3433,0.43],[3440,0.46],[3446,0.42],[3452,0.44],[3458,0.40],[3464,0.42],[3470,0.44],[3476,0.40],[3482,0.42],[3488,0.38],[3494,0.41],[3500,0.37],[3508,0.39],[3516,0.36],[3524,0.38],[3532,0.35],[3540,0.37],[3548,0.36],[3556,0.38],[3564,0.37],[3572,0.40],[3580,0.36],[3588,0.39],[3596,0.37],[3604,0.38],[3612,0.36],[3620,0.38],[3628,0.36],[3636,0.37],[3644,0.35],[3652,0.37],[3660,0.35],[3668,0.38],[3676,0.36],[3684,0.37],[3692,0.34],[3700,0.36],[3708,0.35],[3716,0.37],[3724,0.40],[3732,0.35],[3740,0.37],[3748,0.33],[3756,0.36],[3764,0.31],[3772,0.34],[3780,0.29],[3788,0.32],[3796,0.28],[3804,0.31],[3812,0.29],[3820,0.32],[3828,0.30],[3836,0.33],[3844,0.31],[3852,0.34],[3860,0.33],[3868,0.37],[3876,0.33],[3884,0.31],[3892,0.32],[3900,0.29],[3908,0.31],[3916,0.28],[3924,0.30],[3932,0.27],[3940,0.30],[3948,0.28],[3956,0.31],[3964,0.29],[3972,0.31],[3980,0.27],[3988,0.30],[3996,0.26],[4004,0.29],[4012,0.25],[4020,0.28],[4028,0.25],[4036,0.29],[4044,0.26],[4052,0.30],[4060,0.27],[4068,0.30],[4076,0.26],[4084,0.29],[4092,0.28],[4100,0.32],[4104,0.34],[4110,0.29],[4118,0.27],[4126,0.30],[4134,0.26],[4142,0.29],[4150,0.25],[4158,0.28],[4166,0.24],[4174,0.27],[4182,0.23],[4190,0.21],[4198,0.25],[4206,0.22],[4214,0.26],[4222,0.23],[4230,0.27],[4238,0.24],[4246,0.28],[4254,0.26],[4262,0.29],[4268,0.37],[4272,0.30],[4280,0.31],[4288,0.34],[4296,0.32],[4304,0.36],[4312,0.35],[4320,0.38],[4328,0.37],[4336,0.40],[4343,0.41],[4350,0.38],[4358,0.40],[4366,0.36],[4374,0.33],[4382,0.31],[4390,0.33],[4398,0.29],[4406,0.31],[4414,0.27],[4422,0.29],[4430,0.26],[4438,0.28],[4446,0.25],[4454,0.24],[4462,0.27],[4470,0.26],[4478,0.29],[4486,0.27],[4494,0.30],[4502,0.28],[4510,0.31],[4518,0.29],[4526,0.32],[4534,0.30],[4542,0.32],[4550,0.29],[4558,0.31],[4566,0.28],[4574,0.30],[4582,0.27],[4590,0.29],[4598,0.26],[4606,0.27],[4614,0.25],[4622,0.28],[4630,0.29],[4637,0.31],[4644,0.27],[4652,0.25],[4660,0.23],[4668,0.25],[4676,0.22],[4684,0.24],[4692,0.21],[4700,0.23],[4708,0.20],[4716,0.22],[4724,0.20],[4732,0.22],[4740,0.20],[4748,0.22],[4756,0.19],[4764,0.22],[4772,0.20],[4780,0.22],[4788,0.19],[4796,0.18],[4804,0.22],[4812,0.25],[4820,0.27],[4828,0.30],[4836,0.33],[4843,0.36],[4850,0.42],[4855,0.50],[4859,0.55],[4864,0.50],[4870,0.45],[4877,0.38],[4883,0.33],[4890,0.30],[4897,0.27],[4903,0.26],[4910,0.29],[4917,0.27],[4923,0.30],[4930,0.28],[4937,0.31],[4944,0.28],[4950,0.26],[4957,0.23],[4964,0.25],[4970,0.27],[4977,0.26],[4984,0.29],[4990,0.31],[4997,0.33],[5003,0.40],[5008,0.37],[5013,0.32],[5018,0.29],[5024,0.27],[5030,0.25],[5037,0.25],[5044,0.22],[5050,0.24],[5057,0.20],[5064,0.23],[5070,0.21],[5077,0.24],[5083,0.21],[5090,0.23],[5097,0.20],[5103,0.18],[5110,0.22],[5116,0.24],[5123,0.28]];

var j2100_A = [[2674,0.55],[2680,0.58],[2690,0.56],[2700,0.59],[2710,0.61],[2720,0.62],[2730,0.66],[2740,0.67],[2750,0.70],[2760,0.74],[2770,0.80],[2780,0.90],[2788,1.00],[2794,1.06],[2800,1.09],[2805,1.04],[2810,0.96],[2815,0.88],[2820,0.79],[2828,0.74],[2835,0.72],[2842,0.74],[2850,0.70],[2860,0.66],[2870,0.64],[2880,0.63],[2890,0.61],[2900,0.62],[2910,0.61],[2920,0.62],[2930,0.63],[2940,0.61],[2950,0.60],[2960,0.58],[2970,0.56],[2980,0.54],[2990,0.53],[3000,0.52],[3010,0.51],[3020,0.51],[3030,0.52],[3040,0.53],[3050,0.54],[3060,0.57],[3070,0.59],[3080,0.60],[3090,0.59],[3100,0.60],[3110,0.61],[3120,0.62],[3130,0.61],[3140,0.63],[3150,0.60],[3160,0.61],[3170,0.60],[3180,0.60],[3190,0.61],[3200,0.60],[3210,0.60],[3220,0.59],[3230,0.60],[3238,0.59],[3240,null],
[3403,0.55],[3410,0.56],[3416,0.59],[3420,0.64],[3423,0.67],[3427,0.60],[3432,0.56],[3440,0.545],[3450,0.54],[3460,0.535],[3470,0.53],[3480,0.525],[3490,0.52],[3500,0.515],[3510,0.51],[3520,0.505],[3530,0.50],[3540,0.50],[3550,0.495],[3560,0.49],[3570,0.49],[3580,0.488],[3590,0.485],[3600,0.48],[3610,0.48],[3620,0.478],[3630,0.475],[3640,0.475],[3650,0.47],[3660,0.472],[3670,0.47],[3680,0.468],[3690,0.465],[3700,0.465],[3710,0.462],[3718,0.46],[3724,0.48],[3728,0.50],[3732,0.47],[3740,0.455],[3750,0.45],[3760,0.445],[3770,0.44],[3780,0.435],[3790,0.43],[3800,0.425],[3810,0.42],[3820,0.415],[3830,0.41],[3840,0.41],[3850,0.412],[3858,0.42],[3864,0.45],[3869,0.50],[3874,0.45],[3880,0.43],[3890,0.42],[3900,0.41],[3910,0.405],[3920,0.40],[3930,0.39],[3940,0.388],[3950,0.385],[3960,0.39],[3968,0.40],[3972,0.41],[3978,0.39],[3990,0.373],[4005,0.36],[4020,0.35],[4030,0.349],[4045,0.35],[4060,0.355],[4070,0.357],[4085,0.36],[4095,0.365],[4103,0.373],[4115,0.36],[4125,0.35],[4137,0.341],[4150,0.33],[4165,0.322],[4177,0.317],[4195,0.312],[4217,0.309],[4235,0.31],[4257,0.309],[4265,0.32],[4270,0.36],[4275,0.34],[4285,0.35],[4295,0.37],[4310,0.388],[4325,0.41],[4335,0.42],[4343,0.436],[4353,0.43],[4363,0.428],[4375,0.41],[4390,0.388],[4405,0.37],[4417,0.357],[4430,0.345],[4443,0.333],[4457,0.325],[4470,0.325],[4490,0.33],[4510,0.333],[4530,0.335],[4550,0.333],[4570,0.33],[4590,0.325],[4610,0.322],[4630,0.317],[4650,0.313],[4670,0.309],[4690,0.305],[4710,0.301],[4730,0.297],[4743,0.293],[4760,0.30],[4777,0.325],[4790,0.34],[4803,0.373],[4817,0.41],[4830,0.452],[4840,0.48],[4850,0.515],[4857,0.55],[4863,0.579],[4870,0.56],[4877,0.539],[4887,0.53],[4897,0.515],[4910,0.50],[4923,0.476],[4935,0.45],[4943,0.42],[4950,0.44],[4955,0.50],[4960,0.579],[4965,0.48],[4970,0.43],[4977,0.415],[4983,0.404],[4990,0.40],[4997,0.42],[5001,0.55],[5004,0.75],[5007,0.88],[5010,0.75],[5013,0.55],[5017,0.468],[5025,0.40],[5030,0.357],[5040,0.34],[5057,0.309],[5070,0.30],[5083,0.293],[5095,0.285],[5103,0.27],[5113,0.285],[5123,0.293]];

var j2204_B = [[1658,5.1],[1661,5.4],[1664,5.2],[1667,5.95],[1670,5.5],[1673,5.7],[1676,5.2],[1680,5.0],[1684,4.7],[1688,5.1],[1692,4.5],[1696,4.9],[1700,4.4],[1704,4.8],[1708,4.3],[1712,4.7],[1716,4.2],[1720,4.6],[1724,4.1],[1728,4.55],[1732,4.3],[1735,4.7],[1738,5.15],[1741,4.4],[1744,4.5],[1748,4.1],[1752,4.6],[1756,4.35],[1760,4.7],[1764,4.2],[1768,4.5],[1772,4.0],[1776,4.4],[1780,4.0],[1784,4.3],[1788,4.1],[1792,4.4],[1796,4.0],[1800,4.3],[1804,4.1],[1808,4.4],[1812,4.0],[1816,4.2],[1820,3.9],[1826,3.6],[1830,4.1],[1834,3.8],[1838,4.2],[1842,3.9],[1846,4.3],[1850,3.9],[1854,4.4],[1858,4.0],[1862,4.5],[1866,3.8],[1870,4.6],[1874,4.2],[1878,4.8],[1882,4.6],[1886,5.0],[1890,4.8],[1894,5.1],[1898,5.0],[1902,5.3],[1906,5.2],[1910,5.7],[1914,5.9],[1918,5.6],[1922,5.3],[1926,5.0],[1930,4.7],[1934,4.4],[1938,4.1],[1942,3.75],[1946,4.1],[1950,4.0],[1954,3.7],[1958,4.0],[1962,3.6],[1966,3.9],[1970,3.3],[1974,3.8],[1978,4.0],[1982,3.6],[1986,3.9],[1990,3.5],[1994,4.0],[1998,3.4],[2002,4.0],[2006,4.1],[2008,null],
[2108,3.4],[2111,3.2],[2114,3.5],[2117,3.1],[2120,3.4],[2124,3.2],[2128,3.5],[2132,3.3],[2136,3.45],[2140,3.1],[2144,3.4],[2148,3.2],[2152,3.6],[2156,3.3],[2160,3.1],[2164,3.3],[2168,3.0],[2172,3.25],[2176,3.05],[2180,3.3],[2184,3.0],[2188,3.2],[2192,2.95],[2196,3.2],[2200,3.0],[2204,3.15],[2208,2.9],[2212,3.15],[2216,2.95],[2220,3.1],[2224,2.85],[2228,3.1],[2232,2.95],[2236,3.15],[2240,2.9],[2244,3.1],[2248,2.8],[2252,3.05],[2256,2.9],[2260,3.1],[2264,2.85],[2268,3.05],[2272,2.95],[2276,3.15],[2280,2.9],[2284,3.1],[2288,3.0],[2292,3.2],[2296,3.0],[2300,3.15],[2304,3.05],[2308,3.2],[2312,3.0],[2316,3.15],[2320,3.05],[2324,3.3],[2328,3.45],[2333,3.51],[2342,3.26],[2350,3.45],[2358,3.14],[2366,3.32],[2375,3.02],[2383,3.38],[2387,3.63],[2391,3.26],[2400,3.45],[2408,3.20],[2416,3.08],[2424,3.32],[2433,3.51],[2441,3.26],[2449,3.54],[2457,3.32],[2466,3.45],[2474,3.26],[2482,3.51],[2490,3.35],[2499,3.45],[2507,3.32],[2511,3.63],[2519,3.26],[2532,3.38],[2540,3.20],[2548,3.32],[2557,3.14],[2565,3.26],[2573,3.08],[2581,3.20],[2590,2.98],[2598,3.14],[2606,2.92],[2614,3.11],[2623,3.26],[2631,3.02],[2637,3.5],[2639,4.25],[2641,3.3],[2644,3.02],[2652,3.08],[2660,2.89],[2668,3.02],[2677,2.65],[2685,2.89],[2693,2.71],[2701,2.95],[2710,2.83],[2718,3.02],[2726,2.89],[2735,3.11],[2743,3.02],[2751,3.17],[2760,3.08],[2768,3.26],[2776,3.38],[2784,3.63],[2792,4.06],[2798,4.37],[2805,4.62],[2810,4.89],[2817,4.74],[2825,4.55],[2834,4.31],[2842,3.88],[2850,3.51],[2859,3.32],[2867,3.14],[2875,2.89],[2883,3.02],[2892,2.77],[2900,2.95],[2908,2.71],[2916,2.92],[2925,2.65],[2933,2.89],[2941,2.77],[2950,2.95],[2958,2.65],[2966,2.86],[2974,2.58],[2983,2.77],[2991,2.52],[2999,2.71],[3007,2.46],[3016,2.65],[3024,2.40],[3032,2.58],[3040,2.28],[3049,2.52],[3057,2.34],[3065,1.85],[3069,2.40],[3078,2.28],[3086,2.46],[3094,2.22],[3098,1.97],[3103,2.40],[3107,2.40],[3115,2.52],[3123,2.65],[3131,2.71],[3140,2.86],[3148,2.77],[3156,2.95],[3164,2.89],[3173,3.26],[3177,3.02]];

var j2204_A = [[1658,4.68],[1663,4.62],[1667,4.50],[1671,4.38],[1675,4.30],[1680,4.40],[1685,4.35],[1690,4.48],[1695,4.45],[1700,4.55],[1705,4.52],[1710,4.58],[1715,4.55],[1720,4.60],[1725,4.55],[1730,4.60],[1735,4.57],[1740,4.55],[1745,4.62],[1750,4.63],[1755,4.55],[1760,4.50],[1765,4.45],[1770,4.40],[1775,4.38],[1780,4.35],[1785,4.33],[1790,4.30],[1795,4.32],[1800,4.30],[1805,4.27],[1810,4.25],[1815,4.22],[1820,4.20],[1825,4.10],[1828,4.00],[1832,4.20],[1836,4.25],[1840,4.30],[1845,4.38],[1850,4.45],[1855,4.55],[1860,4.70],[1865,4.85],[1868,4.90],[1870,3.95],[1873,4.85],[1877,5.00],[1882,5.15],[1887,5.30],[1892,5.42],[1897,5.55],[1901,5.45],[1905,5.35],[1909,5.30],[1913,5.25],[1917,5.15],[1921,5.02],[1925,4.88],[1929,4.75],[1933,4.60],[1937,4.45],[1941,4.30],[1946,4.15],[1950,4.10],[1955,4.05],[1960,4.08],[1965,4.00],[1970,3.95],[1975,3.90],[1980,3.85],[1985,3.88],[1990,3.80],[1995,3.90],[2000,3.80],[2004,3.72],[2006,3.68],[2008,null],
[2108,3.55],[2112,3.65],[2116,3.58],[2120,3.52],[2125,3.47],[2130,3.42],[2135,3.44],[2140,3.40],[2145,3.42],[2150,3.37],[2155,3.35],[2160,3.36],[2165,3.33],[2170,3.31],[2175,3.30],[2180,3.29],[2185,3.28],[2190,3.26],[2195,3.25],[2200,3.24],[2205,3.22],[2210,3.21],[2215,3.20],[2220,3.19],[2225,3.18],[2230,3.20],[2235,3.19],[2240,3.17],[2245,3.18],[2250,3.20],[2255,3.18],[2260,3.19],[2265,3.17],[2270,3.21],[2275,3.22],[2280,3.24],[2285,3.26],[2290,3.28],[2295,3.31],[2300,3.34],[2305,3.36],[2310,3.39],[2315,3.42],[2320,3.45],[2325,3.48],[2330,3.52],[2334,3.56],[2338,3.50],[2342,3.52],[2346,3.45],[2350,3.38],[2358,3.32],[2366,3.26],[2374,3.28],[2383,3.30],[2392,3.31],[2400,3.32],[2408,3.38],[2416,3.42],[2425,3.41],[2433,3.42],[2441,3.38],[2449,3.38],[2457,3.36],[2466,3.35],[2474,3.36],[2482,3.35],[2490,3.33],[2499,3.32],[2505,3.36],[2511,3.42],[2516,3.33],[2524,3.29],[2532,3.25],[2540,3.20],[2548,3.17],[2557,3.14],[2565,3.11],[2573,3.08],[2581,3.06],[2590,3.05],[2598,3.01],[2606,2.99],[2614,2.97],[2623,2.95],[2630,2.98],[2636,3.15],[2639,3.20],[2642,3.0],[2646,2.71],[2650,2.85],[2656,2.86],[2664,2.80],[2672,2.77],[2680,2.78],[2689,2.80],[2697,2.82],[2705,2.83],[2714,2.85],[2722,2.86],[2730,2.88],[2739,2.92],[2747,2.96],[2755,3.02],[2763,3.08],[2772,3.14],[2778,3.25],[2784,3.45],[2788,3.62],[2792,3.82],[2796,3.95],[2799,4.00],[2801,3.60],[2803,2.83],[2805,3.30],[2806,3.75],[2808,3.60],[2811,2.95],[2814,3.40],[2817,3.50],[2822,3.38],[2830,3.26],[2838,3.16],[2846,3.08],[2854,3.02],[2863,2.98],[2871,2.93],[2879,2.89],[2887,2.80],[2896,2.74],[2904,2.72],[2912,2.71],[2920,2.73],[2929,2.74],[2937,2.72],[2945,2.71],[2953,2.68],[2962,2.65],[2970,2.63],[2978,2.59],[2986,2.56],[2995,2.52],[3003,2.48],[3011,2.43],[3019,2.40],[3028,2.37],[3036,2.36],[3045,2.37],[3053,2.36],[3061,2.37],[3069,2.35],[3078,2.37],[3086,2.35],[3094,2.34],[3102,2.36],[3111,2.37],[3119,2.40],[3127,2.43],[3135,2.45],[3144,2.49],[3152,2.52],[3160,2.56],[3168,2.62],[3175,2.77]];

var specB = [j0032_B, j0144_B, j0637_B, j1837_B, j2100_B, j2204_B];
var specA = [j0032_A, j0144_A, j0637_A, j1837_A, j2100_A, j2204_A];
var lineLists = [lines_j0032, lines_j0144, lines_j0637, lines_j1837, lines_j2100, lines_j2204];

// layout
var W = 1395, H = 1021;
var boxes = [
  {l: 71, r: 684, t: 3, b: 313},
  {l: 757.7, r: 1370, t: 3, b: 313.3},
  {l: 71, r: 684, t: 341.7, b: 653.3},
  {l: 757.7, r: 1364.3, t: 341.7, b: 653.3},
  {l: 71, r: 684, t: 681, b: 965},
  {l: 757.7, r: 1370, t: 681.7, b: 965}
];
var labelEnd = [107, 109, 119, 105, 96, 90];          // px below panel top where line labels end
var labelNudge = [[0, 14, 0, 0], [13, 0, 0, 0, 0, 0, 0, 0, 0, 0], [2, 1, 12, 0, 0],
                  [0, 10, 0, 0, 0, 0, 0], [21, 0, 0, 0, 0, 0, 0, 0, 0, 0], [20, 0, 0]];

var colB = "#1e90ff", colA = "#8a2be2", colLine = "#a966e8";

var svg = d3.select("#chart").append("svg")
  .attr("width", W)
  .attr("height", H);

panelNames.forEach(function(name, i) {
  var box = boxes[i];
  var x = d3.scaleLinear().domain(xDomains[i]).range([box.l, box.r]);
  var y = d3.scaleLinear().domain(yDomains[i]).range([box.b, box.t]);
  var g = svg.append("g");

  svg.append("clipPath").attr("id", "clip" + i)
    .append("rect")
      .attr("x", box.l).attr("y", box.t)
      .attr("width", box.r - box.l).attr("height", box.b - box.t);

  // masked band
  g.append("rect")
    .attr("x", x(bands[i][0]))
    .attr("y", box.t)
    .attr("width", x(bands[i][1]) - x(bands[i][0]))
    .attr("height", box.b - box.t)
    .attr("fill", "#efefef");

  var plot = g.append("g").attr("clip-path", "url(#clip" + i + ")");
  var line = d3.line()
    .defined(function(d) { return d[1] !== null; })
    .x(function(d) { return x(d[0]); })
    .y(function(d) { return y(d[1]); });

  plot.append("path").datum(specB[i])
    .attr("d", line).attr("fill", "none")
    .attr("stroke", colB).attr("stroke-width", 1.1).attr("stroke-linejoin", "round");
  plot.append("path").datum(specA[i])
    .attr("d", line).attr("fill", "none")
    .attr("stroke", colA).attr("stroke-width", 1.1).attr("stroke-linejoin", "round");

  // emission line markers
  plot.selectAll(".em").data(lineLists[i]).enter()
    .append("line")
    .attr("x1", function(d) { return x(d[0]); })
    .attr("x2", function(d) { return x(d[0]); })
    .attr("y1", box.t).attr("y2", box.b)
    .attr("stroke", colLine).attr("stroke-width", 1.1)
    .attr("stroke-dasharray", "4,2");

  g.selectAll(".lab").data(lineLists[i]).enter()
    .append("text")
    .attr("transform", function(d, k) {
      return "translate(" + (x(d[0]) + labelNudge[i][k]) + "," + (box.t + labelEnd[i]) + ") rotate(90)";
    })
    .attr("text-anchor", "end")
    .attr("dy", "0.36em")
    .attr("font-size", 15)
    .attr("fill", "#111")
    .text(function(d) { return d[1]; });

  // axes
  var xa = d3.axisBottom(x).tickValues(xTicks[i]).tickFormat(d3.format("d"))
    .tickSize(5).tickPadding(3).tickSizeOuter(0);
  g.append("g")
    .attr("transform", "translate(0," + box.b + ")")
    .call(xa)
    .call(function(a) { a.select(".domain").remove(); })
    .attr("font-size", 17.5).attr("font-family", "DejaVu Sans").attr("color", "#222");

  var ya = d3.axisLeft(y).tickValues(yTicks[i])
    .tickFormat(function(d, k) { return yTickLabels[i][k]; })
    .tickSize(4.5).tickPadding(1.5).tickSizeOuter(0);
  g.append("g")
    .attr("transform", "translate(" + box.l + ",0)")
    .call(ya)
    .call(function(a) { a.select(".domain").remove(); })
    .attr("font-size", 17.5).attr("font-family", "DejaVu Sans").attr("color", "#222");

  // frame
  g.append("rect")
    .attr("x", box.l).attr("y", box.t)
    .attr("width", box.r - box.l).attr("height", box.b - box.t)
    .attr("fill", "none").attr("stroke", "#444").attr("stroke-width", 1);

  // name + redshift
  g.append("text").attr("x", box.r - 13).attr("y", box.t + 22)
    .attr("text-anchor", "end").attr("font-size", 19.5).attr("fill", "#111").text(name);
  g.append("text").attr("x", box.r - 13).attr("y", box.t + 45)
    .attr("text-anchor", "end").attr("font-size", 19.5).attr("fill", "#111").text("z = " + redshifts[i]);

  // legend
  var lg = g.append("g").attr("transform", "translate(" + Math.round(box.l + 8) + "," + Math.round(box.b - 57) + ")");
  lg.append("rect").attr("x", 0.5).attr("y", 0.5).attr("width", 157).attr("height", 50).attr("rx", 4)
    .attr("fill", "#fff").attr("fill-opacity", 0.8).attr("stroke", "#d0d0d0");
  lg.append("line").attr("x1", 6).attr("x2", 38).attr("y1", 11.5).attr("y2", 11.5)
    .attr("stroke", colB).attr("stroke-width", 1.2);
  lg.append("text").attr("x", 51).attr("y", 18).attr("font-size", 15.5).attr("fill", "#111").text("AGN B");
  lg.append("line").attr("x1", 6).attr("x2", 38).attr("y1", 35.5).attr("y2", 35.5)
    .attr("stroke", colA).attr("stroke-width", 1.2);
  lg.append("text").attr("x", 51).attr("y", 42).attr("font-size", 15.5).attr("fill", "#111").text("AGN A / " + scaleA[i]);

  // y label with superscripts
  var yl = g.append("text")
    .attr("transform", "translate(" + (box.l - 42) + "," + ((box.t + box.b) / 2) + ") rotate(-90)")
    .attr("text-anchor", "middle").attr("font-size", 19).attr("fill", "#111");
  var parts = [["Flux [10", 0], ["\u2212" + fluxExp[i], 1], [" erg s", 0], ["\u22121", 1],
               [" cm", 0], ["\u22122", 1], [" \u00c5", 0], ["\u22121", 1], ["]", 0]];
  var prevSup = 0;
  parts.forEach(function(p) {
    var shift = p[1] === prevSup ? 0 : (p[1] ? -8 : 8);
    yl.append("tspan").attr("dy", shift).attr("font-size", p[1] ? 13.5 : 19).text(p[0]);
    prevSup = p[1];
  });

  // x label on bottom row
  if (i >= 4) {
    g.append("text").attr("x", (box.l + box.r) / 2).attr("y", 1012)
      .attr("text-anchor", "middle").attr("font-size", 21).attr("fill", "#111")
      .text("Rest-frame Wavelength [\u00c5]");
  }
});
</script>
</body>
</html>
